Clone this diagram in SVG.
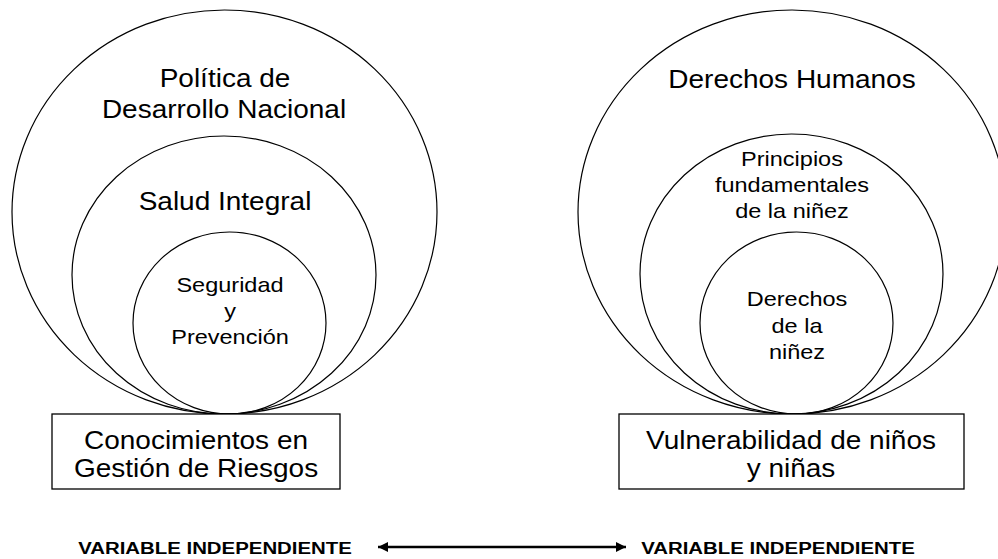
<svg xmlns="http://www.w3.org/2000/svg" width="998" height="559" viewBox="0 0 998 559">
<defs>
<style>
.c{fill:none;stroke:#000;stroke-width:1.2}
.b{fill:#fff;stroke:#000;stroke-width:1.3}
.t{font-family:"Liberation Sans",Arial,sans-serif;font-size:25px;fill:#000;text-anchor:middle}
.s{font-family:"Liberation Sans",Arial,sans-serif;font-size:21px;fill:#000;text-anchor:middle}
.v{font-family:"Liberation Sans",Arial,sans-serif;font-size:17px;font-weight:bold;fill:#000;text-anchor:middle}
.a{stroke:#000;stroke-width:2.5;fill:none}
</style>
<marker id="ah" viewBox="0 0 10 10" refX="10" refY="5" markerWidth="5" markerHeight="4" markerUnits="strokeWidth" orient="auto-start-reverse">
<path d="M0,0 L10,5 L0,10 Z" fill="#000"/>
</marker>
</defs>
<rect width="998" height="559" fill="#fff"/>

<g id="politica">
<ellipse class="c" cx="224.5" cy="212" rx="212.5" ry="202"/>
<text class="t" transform="translate(225 87) scale(1.12 1)">Política de</text>
<text class="t" transform="translate(224 118) scale(1.12 1)">Desarrollo Nacional</text>
</g>
<g id="salud">
<ellipse class="c" cx="224" cy="275" rx="152" ry="139"/>
<text class="t" transform="translate(225 210) scale(1.12 1)">Salud Integral</text>
</g>
<g id="seguridad">
<ellipse class="c" cx="229.5" cy="323" rx="96.5" ry="91"/>
<text class="s" transform="translate(230 292) scale(1.12 1)">Seguridad</text>
<text class="s" transform="translate(230 318) scale(1.12 1)">y</text>
<text class="s" transform="translate(230 344) scale(1.12 1)">Prevención</text>
</g>
<g id="conocimientos">
<rect class="b" x="52" y="414" width="288" height="75"/>
<text class="t" transform="translate(196 449) scale(1.12 1)">Conocimientos en</text>
<text class="t" transform="translate(196 477) scale(1.12 1)">Gestión de Riesgos</text>
</g>

<g id="derechos-humanos">
<ellipse class="c" cx="792" cy="212" rx="214" ry="202"/>
<text class="t" transform="translate(792 88) scale(1.12 1)">Derechos Humanos</text>
</g>
<g id="principios">
<ellipse class="c" cx="791.5" cy="274" rx="151.5" ry="140"/>
<text class="s" transform="translate(792 166) scale(1.12 1)">Principios</text>
<text class="s" transform="translate(792 192) scale(1.12 1)">fundamentales</text>
<text class="s" transform="translate(792 218) scale(1.12 1)">de la niñez</text>
</g>
<g id="derechos-ninez">
<ellipse class="c" cx="796.5" cy="323" rx="96.5" ry="91"/>
<text class="s" transform="translate(797 306) scale(1.12 1)">Derechos</text>
<text class="s" transform="translate(797 333) scale(1.12 1)">de la</text>
<text class="s" transform="translate(797 359) scale(1.12 1)">niñez</text>
</g>
<g id="vulnerabilidad">
<rect class="b" x="619" y="414" width="345" height="75"/>
<text class="t" transform="translate(791 449) scale(1.12 1)">Vulnerabilidad de niños</text>
<text class="t" transform="translate(791 477) scale(1.12 1)">y niñas</text>
</g>

<g id="var-izq">
<text class="v" transform="translate(215 554) scale(1.2 1)">VARIABLE INDEPENDIENTE</text>
</g>
<g id="var-der">
<text class="v" transform="translate(778 554) scale(1.2 1)">VARIABLE INDEPENDIENTE</text>
</g>

<g id="connectors">
<line class="a" x1="378" y1="547" x2="626" y2="547" marker-start="url(#ah)" marker-end="url(#ah)"/>
</g>
</svg>
